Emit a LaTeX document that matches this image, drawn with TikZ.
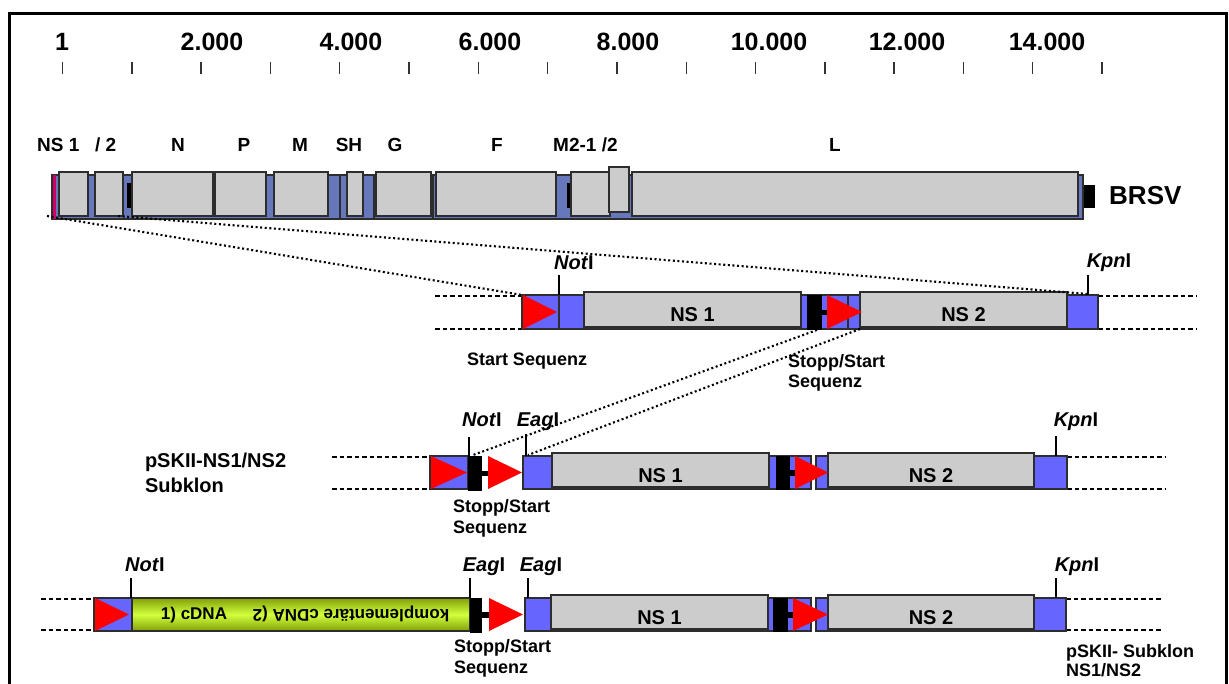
\documentclass[tikz,border=0pt]{standalone}
\usepackage{fontspec}
\setmainfont{Liberation Sans}
\usetikzlibrary{fit}
\definecolor{gblue}{RGB}{102,119,187}
\definecolor{rblue}{RGB}{102,102,255}
\definecolor{gbox}{RGB}{204,204,204}
\definecolor{edge}{RGB}{45,45,45}
\definecolor{pinkc}{RGB}{204,0,102}
\definecolor{limec}{RGB}{210,255,60}
\definecolor{olivec}{RGB}{130,160,10}
\newcommand\fsz[1]{\fontsize{#1}{#1}\selectfont}
\newcommand\mybox[6]{\node[#1, fit={(#3,#4) (#5,#6)}] (#2) {};}
\newcommand\rtri[4]{\fill[red] (#1,#3) -- (#2,{(#3+#4)/2}) -- (#1,#4) -- cycle;}
\tikzset{
  bx/.style={inner sep=0pt, outer sep=0pt, line width=1.3pt, draw=edge},
  gblk/.style={bx, fill=gblue},
  rblk/.style={bx, fill=rblue},
  grey/.style={bx, fill=gbox},
  blk/.style={inner sep=0pt, outer sep=0pt, fill=black},
  txt/.style={inner sep=0pt, outer sep=0pt, font=\bfseries\fsz{18}},
  scl/.style={inner sep=0pt, anchor=base, font=\bfseries\fsz{25}},
  gene/.style={inner sep=0pt, anchor=base, font=\bfseries\fsz{19}},
  site/.style={inner sep=0pt, anchor=base, font=\bfseries\fsz{20}},
  nsl/.style={inner sep=0pt, anchor=base, font=\bfseries\fsz{20}},
  tick/.style={line width=2pt, black},
  dashln/.style={line width=1.4pt, dash pattern=on 4.5pt off 3pt},
  dotln/.style={line width=2.1pt, dash pattern=on 2pt off 2.6pt},
}
\begin{document}
\begin{tikzpicture}[x=1pt,y=-1pt]
\useasboundingbox (0,0) rectangle (1229,684);
% frame
\draw[line width=3pt] (9,720) -- (9,14) -- (1226,14) -- (1226,720);
% scale
\foreach \k in {0,...,15} \draw[line width=1.4pt, black!80] ({62.5+69.3*\k},62) -- ({62.5+69.3*\k},74);
\node[scl] (s1) at (62,51) {1};
\node[scl] (s2) at (212,51) {2.000};
\node[scl] (s4) at (351,51) {4.000};
\node[scl] (s6) at (490,51) {6.000};
\node[scl] (s8) at (628,51) {8.000};
\node[scl] (s10) at (769,51) {10.000};
\node[scl] (s12) at (907,51) {12.000};
\node[scl] (s14) at (1047,51) {14.000};
% gene labels
\node[gene, anchor=base west] (lns1) at (37,152) {NS 1};
\node[gene, anchor=base west] (lns2) at (95,152) {/ 2};
\node[gene] (lN) at (178,152) {N};
\node[gene] (lP) at (244,152) {P};
\node[gene] (lM) at (300,152) {M};
\node[gene] (lSH) at (349,152) {SH};
\node[gene] (lG) at (395,152) {G};
\node[gene] (lF) at (497,152) {F};
\node[gene, anchor=base west] (lM2) at (553,152) {M2-1 /2};
\node[gene] (lL) at (835,152) {L};
% genome bar
\mybox{gblk}{gbar}{52}{175}{1083}{219}
\fill[pinkc] (53,175) rectangle (56,219);
\fill[black] (127,183) rectangle (132,208);
\fill[black] (567,183) rectangle (571,208);
\draw[edge, line width=1.3pt] (340,175) -- (340,219) (374,175) -- (374,219) (433,175) -- (433,219);
\mybox{grey}{gNS1}{59}{172}{88}{216}
\mybox{grey}{gNS2}{95}{172}{123}{216}
\mybox{grey}{gN}{132}{172}{213}{216}
\mybox{grey}{gP}{215}{172}{266}{216}
\mybox{grey}{gM}{274}{172}{328}{216}
\mybox{grey}{gSH}{347}{172}{363}{216}
\mybox{grey}{gG}{376}{172}{431}{216}
\mybox{grey}{gF}{436}{172}{556}{216}
\mybox{grey}{gM21}{571}{172}{610}{216}
\mybox{grey}{gM22}{609}{167}{629}{212}
\mybox{grey}{gL}{632}{172}{1078}{216}
\fill[black] (1084,185) rectangle (1095,208);
\node[inner sep=0pt, anchor=base west, font=\bfseries\fsz{26}] (brsv) at (1109,205) {BRSV};
% ---------- row 1 ----------
\draw[dashln] (435,296) -- (522,296) (435,329) -- (522,329);
\draw[dashln] (1098,296) -- (1197,296) (1098,329) -- (1197,329);
\mybox{rblk}{r1}{522}{295}{1098}{329}
\draw[edge, line width=1.3pt] (559,295) -- (559,329) (848,295) -- (848,329);
\rtri{523}{557}{295}{329}
\mybox{grey}{r1ns1}{584}{292}{801}{327}
\mybox{grey}{r1ns2}{860}{292}{1067}{327}
\fill[black] (807,295) rectangle (822,330);
\fill[black] (822,310) rectangle (828,315);
\rtri{827}{862}{295}{329}
\node[nsl] at (r1ns1.center |- 0,322) {NS 1};
\node[nsl] at (r1ns2.center |- 0,322) {NS 2};
\coordinate (r1not) at (559,275);
\coordinate (r1kpn) at (1088,275);
\draw[tick] (r1not) -- (r1not |- r1.north);
\draw[tick] (r1kpn) -- (r1kpn |- r1.north);
\node[site] (t1not) at (574,270) {\textit{Not}I};
\node[site] (t1kpn) at (1109,268) {\textit{Kpn}I};
\node[txt, anchor=base west] (start1) at (467,366) {Start Sequenz};
\node[txt, anchor=base west] (ss1a) at (788,368) {Stopp/Start};
\node[txt, anchor=base west] (ss1b) at (788,388) {Sequenz};
% dotted lines genome -> row 1
\coordinate (d1) at (47,216);
\coordinate (d2) at (118,216);
\draw[dotln] (d1) -- (r1.north west);
\draw[dotln] (d2) -- (1088,294);
% ---------- row 2 ----------
\node[txt, anchor=base west, font=\bfseries\fsz{20}] (p2a) at (145,467) {pSKII-NS1/NS2};
\node[txt, anchor=base west, font=\bfseries\fsz{20}] (p2b) at (145,492) {Subklon};
\draw[dashln] (332,457) -- (430,457) (332,489) -- (430,489);
\draw[dashln] (1067,457) -- (1165,457) (1067,489) -- (1165,489);
\mybox{rblk}{r2a}{430}{456}{468}{489}
\rtri{431}{467}{456}{489}
\fill[black] (468,456) rectangle (482,491);
\fill[black] (482,471) rectangle (488,476);
\rtri{488}{522}{456}{489}
\mybox{rblk}{r2b}{523}{456}{811}{489}
\mybox{rblk}{r2c}{816}{456}{1067}{489}
\mybox{grey}{r2ns1}{552}{453}{769}{487}
\mybox{grey}{r2ns2}{828}{453}{1034}{487}
\fill[black] (776,456) rectangle (790,490);
\fill[black] (790,470) rectangle (795,476);
\rtri{795}{828}{456}{489}
\node[nsl] at (r2ns1.center |- 0,482) {NS 1};
\node[nsl] at (r2ns2.center |- 0,482) {NS 2};
\coordinate (r2not) at (469,437);
\coordinate (r2eag) at (526,434);
\coordinate (r2kpn) at (1056,436);
\draw[tick] (r2not) -- (r2not |- r2a.north);
\draw[tick] (r2eag) -- (r2eag |- r2b.north);
\draw[tick] (r2kpn) -- (r2kpn |- r2c.north);
\node[site] (t2not) at (482,427) {\textit{Not}I};
\node[site] (t2eag) at (538,427) {\textit{Eag}I};
\node[site] (t2kpn) at (1076,427) {\textit{Kpn}I};
\node[txt, anchor=base west] (ss2a) at (453,512) {Stopp/Start};
\node[txt, anchor=base west] (ss2b) at (453,533) {Sequenz};
% dotted lines row 1 -> row 2
\coordinate (d3) at (817,330);
\coordinate (d4) at (860,329);
\draw[dotln] (d3) -- (473,455);
\draw[dotln] (d4) -- (528,455);
% ---------- row 3 ----------
\draw[dashln] (41,599) -- (94,599) (41,630) -- (94,630);
\draw[dashln] (1066,599) -- (1162,599) (1066,630) -- (1162,630);
\mybox{rblk}{r3a}{94}{598}{132}{631}
\rtri{95}{129}{598}{631}
\node[bx, fit={(132,598) (470,631)}, top color=olivec, bottom color=olivec, middle color=limec] (cdna) {};
\node[txt, font=\bfseries\fsz{17}] (c1) at (194,615) {1) cDNA};
\node[txt, font=\bfseries\fsz{17}, rotate=180] (c2) at (351,614) {komplementäre cDNA (2};
\fill[black] (470,598) rectangle (482,633);
\fill[black] (482,612) rectangle (489,618);
\rtri{489}{523}{598}{631}
\mybox{rblk}{r3b}{525}{598}{811}{631}
\mybox{rblk}{r3c}{816}{598}{1066}{631}
\mybox{grey}{r3ns1}{551}{595}{768}{629}
\mybox{grey}{r3ns2}{828}{595}{1034}{629}
\fill[black] (773,598) rectangle (788,632);
\fill[black] (788,612) rectangle (793,618);
\rtri{793}{828}{598}{631}
\node[nsl] at (r3ns1.center |- 0,624) {NS 1};
\node[nsl] at (r3ns2.center |- 0,624) {NS 2};
\coordinate (r3not) at (131,578);
\coordinate (r3eag1) at (470,578);
\coordinate (r3eag2) at (528,578);
\coordinate (r3kpn) at (1056,578);
\draw[tick] (r3not) -- (r3not |- r3a.north);
\draw[tick] (r3eag1) -- (r3eag1 |- cdna.north);
\draw[tick] (r3eag2) -- (r3eag2 |- r3b.north);
\draw[tick] (r3kpn) -- (r3kpn |- r3c.north);
\node[site] (t3not) at (145,571) {\textit{Not}I};
\node[site] (t3eag1) at (484,571) {\textit{Eag}I};
\node[site] (t3eag2) at (541,571) {\textit{Eag}I};
\node[site] (t3kpn) at (1077,571) {\textit{Kpn}I};
\node[txt, anchor=base west] (ss3a) at (454,652) {Stopp/Start};
\node[txt, anchor=base west] (ss3b) at (454,673) {Sequenz};
\node[txt, anchor=base west] (p3a) at (1066,657) {pSKII- Subklon};
\node[txt, anchor=base west] (p3b) at (1066,676) {NS1/NS2};
\end{tikzpicture}
\end{document}
